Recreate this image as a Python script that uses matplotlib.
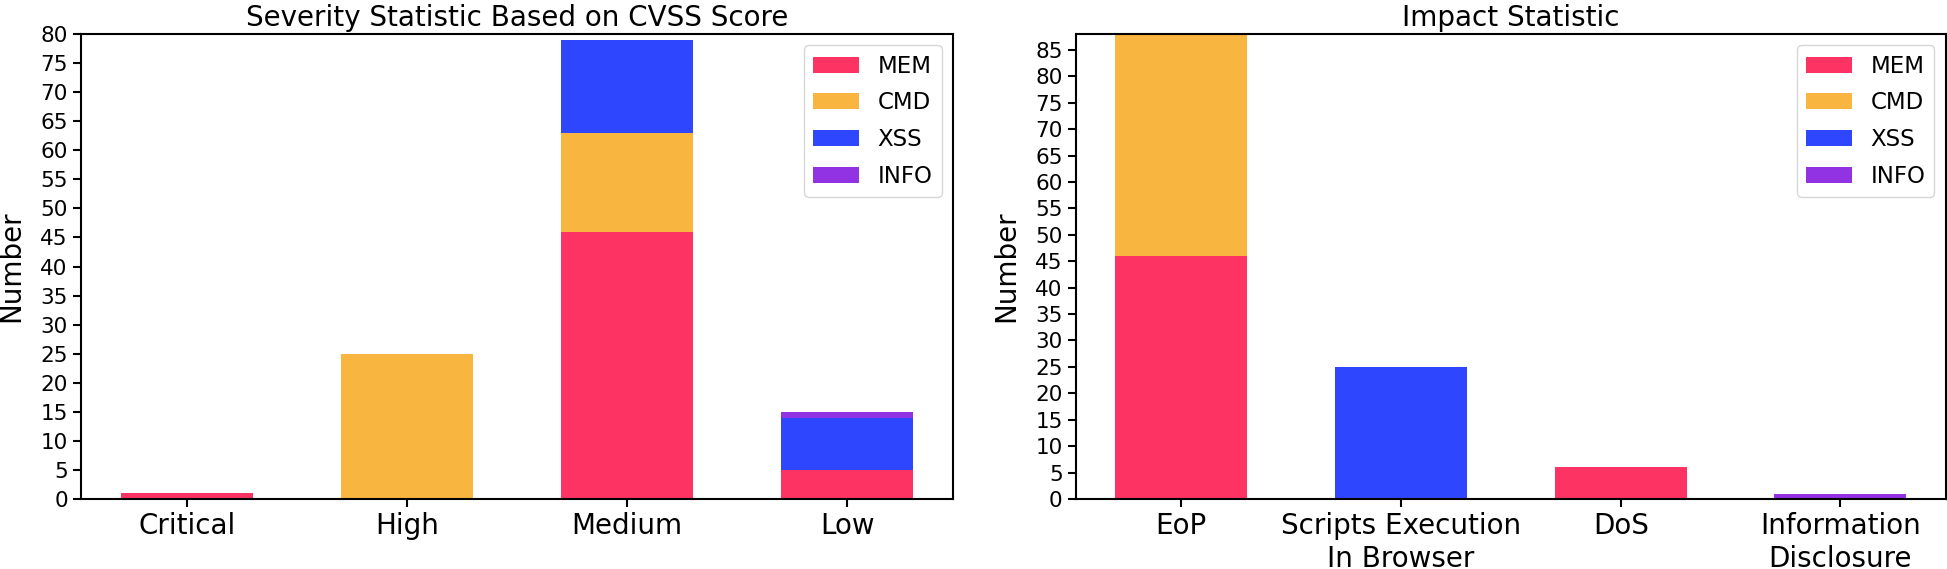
import matplotlib
matplotlib.use("Agg")
import matplotlib.pyplot as plt
import numpy as np

# severity chart data
sev_cats = ['Critical', 'High', 'Medium', 'Low']
sev_mem = [1, 0, 46, 5]
sev_cmd = [0, 25, 17, 0]
sev_xss = [0, 0, 16, 9]
sev_info = [0, 0, 0, 1]

# impact chart data
imp_cats = ['EoP', 'Scripts Execution\nIn Browser', 'DoS', 'Information\nDisclosure']
imp_mem = [46, 0, 6, 0]
imp_cmd = [42, 0, 0, 0]
imp_xss = [0, 25, 0, 0]
imp_info = [0, 0, 0, 1]

labels = ['MEM', 'CMD', 'XSS', 'INFO']
colors = ['#fd3363', '#f8b540', '#2e46fd', '#9132e3']


def stacked(ax, cats, series, title, ymax, yticks):
    x = np.arange(len(cats))
    bottom = np.zeros(len(cats))
    for vals, lab, col in zip(series, labels, colors):
        ax.bar(x, vals, 0.6, bottom=bottom, label=lab, color=col)
        bottom += np.array(vals)
    ax.set_xticks(x)
    ax.set_xticklabels(cats, fontsize=20)
    ax.set_ylim(0, ymax)
    ax.set_yticks(yticks)
    ax.tick_params(axis='y', labelsize=15.5)
    ax.tick_params(length=6, width=1.5)
    ax.set_ylabel('Number', fontsize=20, labelpad=11)
    ax.set_title(title, fontsize=20)
    for s in ax.spines.values():
        s.set_linewidth(1.5)
    ax.legend(loc='upper right', fontsize=16.5, labelspacing=0.6)


fig = plt.figure(figsize=(19.47, 5.69), dpi=100)
ax1 = fig.add_axes([0.0416, 0.123, 0.4479, 0.8172])
ax2 = fig.add_axes([0.5526, 0.123, 0.4468, 0.8172])

stacked(ax1, sev_cats, [sev_mem, sev_cmd, sev_xss, sev_info],
        'Severity Statistic Based on CVSS Score', 80, range(0, 81, 5))
stacked(ax2, imp_cats, [imp_mem, imp_cmd, imp_xss, imp_info],
        'Impact Statistic', 88, range(0, 86, 5))

fig.savefig('out.png', dpi=100)
plt.close(fig)
